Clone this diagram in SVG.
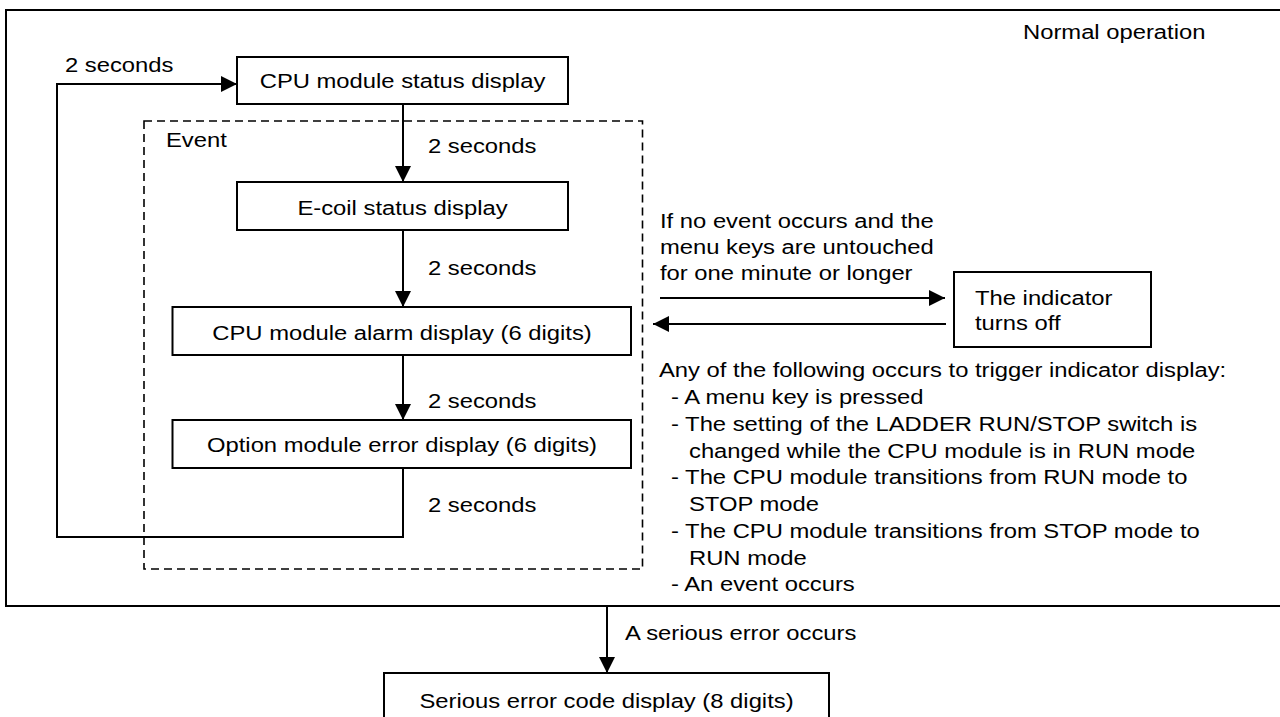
<svg xmlns="http://www.w3.org/2000/svg" width="1280" height="717" viewBox="0 0 1280 717">
<style>
text{font-family:"Liberation Sans",Arial,sans-serif;font-size:20px;fill:#000}
.c{text-anchor:middle}
.box{fill:#fff;stroke:#000;stroke-width:2}
.frame{fill:none;stroke:#000;stroke-width:2}
.dash{fill:none;stroke:#000;stroke-width:1.6;stroke-dasharray:8 5}
.ln{fill:none;stroke:#000;stroke-width:2}
</style>
<defs>
<marker id="ah" markerUnits="userSpaceOnUse" markerWidth="16" markerHeight="16" viewBox="0 0 14 14" refX="14" refY="7" orient="auto">
<path d="M0,0 L14,7 L0,14 Z" fill="#000"/>
</marker>
</defs>
<rect width="1280" height="717" fill="#fff"/>
<g id="normal-operation">
<rect class="frame" x="6" y="10" width="1290" height="596"/>
<text transform="translate(1023 39) scale(1.19 1)">Normal operation</text>
</g>
<g id="event-group">
<rect class="dash" x="144" y="121" width="498.5" height="448"/>
<text transform="translate(166 147) scale(1.19 1)">Event</text>
</g>
<g id="connectors">
<path class="ln" d="M403,468 V537 H57 V84 H237" marker-end="url(#ah)"/>
<path class="ln" d="M403,104 V182" marker-end="url(#ah)"/>
<path class="ln" d="M403,230 V307" marker-end="url(#ah)"/>
<path class="ln" d="M403,355 V420" marker-end="url(#ah)"/>
<path class="ln" d="M660,298 H945" marker-end="url(#ah)"/>
<path class="ln" d="M946,324 H653" marker-end="url(#ah)"/>
<path class="ln" d="M607,606 V673" marker-end="url(#ah)"/>
<text transform="translate(65 72) scale(1.19 1)">2 seconds</text>
<text transform="translate(428 153) scale(1.19 1)">2 seconds</text>
<text transform="translate(428 275) scale(1.19 1)">2 seconds</text>
<text transform="translate(428 408) scale(1.19 1)">2 seconds</text>
<text transform="translate(428 512) scale(1.19 1)">2 seconds</text>
<text transform="translate(660 228) scale(1.19 1)">If no event occurs and the</text>
<text transform="translate(660 254) scale(1.19 1)">menu keys are untouched</text>
<text transform="translate(660 280) scale(1.19 1)">for one minute or longer</text>
<text transform="translate(625 640) scale(1.19 1)">A serious error occurs</text>
</g>
<g id="cpu-status">
<rect class="box" x="237" y="57" width="331" height="47"/>
<text class="c" transform="translate(402.5 88) scale(1.19 1)">CPU module status display</text>
</g>
<g id="ecoil-status">
<rect class="box" x="237" y="182" width="331" height="48"/>
<text class="c" transform="translate(402.5 215) scale(1.19 1)">E-coil status display</text>
</g>
<g id="cpu-alarm">
<rect class="box" x="172.5" y="307" width="458.5" height="48"/>
<text class="c" transform="translate(402 340) scale(1.19 1)">CPU module alarm display (6 digits)</text>
</g>
<g id="option-error">
<rect class="box" x="172.5" y="420" width="458.5" height="48"/>
<text class="c" transform="translate(402 452) scale(1.19 1)">Option module error display (6 digits)</text>
</g>
<g id="indicator-off">
<rect class="box" x="954" y="272" width="197" height="75"/>
<text transform="translate(975 305) scale(1.19 1)">The indicator</text>
<text transform="translate(975 330) scale(1.19 1)">turns off</text>
</g>
<g id="trigger-conditions">
<text transform="translate(659 377) scale(1.19 1)">Any of the following occurs to trigger indicator display:</text>
<text transform="translate(671 404) scale(1.19 1)">- A menu key is pressed</text>
<text transform="translate(671 431) scale(1.19 1)">- The setting of the LADDER RUN/STOP switch is</text>
<text transform="translate(689 457.5) scale(1.19 1)">changed while the CPU module is in RUN mode</text>
<text transform="translate(671 484) scale(1.19 1)">- The CPU module transitions from RUN mode to</text>
<text transform="translate(689 511) scale(1.19 1)">STOP mode</text>
<text transform="translate(671 538) scale(1.19 1)">- The CPU module transitions from STOP mode to</text>
<text transform="translate(689 564.5) scale(1.19 1)">RUN mode</text>
<text transform="translate(671 591) scale(1.19 1)">- An event occurs</text>
</g>
<g id="serious-error">
<rect class="box" x="384" y="673" width="445" height="60"/>
<text class="c" transform="translate(606.5 708) scale(1.19 1)">Serious error code display (8 digits)</text>
</g>
</svg>
